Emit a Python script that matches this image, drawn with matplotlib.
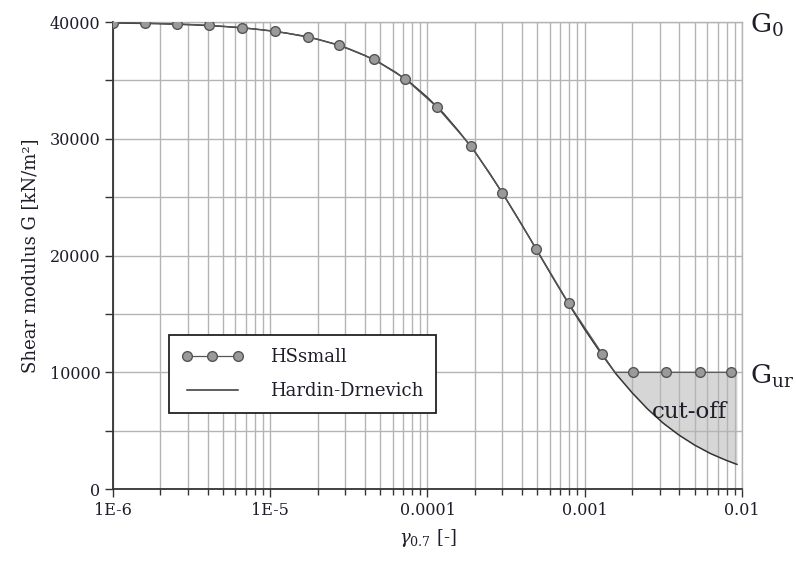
import numpy as np
import matplotlib.pyplot as plt
from matplotlib.ticker import FixedLocator, MultipleLocator, LogLocator, NullFormatter
from matplotlib.transforms import blended_transform_factory

plt.rcParams['font.family'] = ['DejaVu Serif']
plt.rcParams['mathtext.fontset'] = 'dejavuserif'

# Hardin-Drnevich curve, values
gamma_hd = [1.0e-6, 1.26e-6, 1.58e-6, 2.0e-6, 2.51e-6, 3.16e-6, 3.98e-6, 5.01e-6, 6.31e-6, 7.94e-6,
            1.0e-5, 1.26e-5, 1.58e-5, 2.0e-5, 2.51e-5, 3.16e-5, 3.98e-5, 5.01e-5, 6.31e-5, 7.94e-5,
            1.0e-4, 1.26e-4, 1.58e-4, 2.0e-4, 2.51e-4, 3.16e-4, 3.98e-4, 5.01e-4, 6.31e-4, 7.94e-4,
            1.0e-3, 1.26e-3, 1.58e-3, 2.0e-3, 2.51e-3, 3.16e-3, 3.98e-3, 5.01e-3, 6.31e-3, 7.94e-3,
            9.3e-3]
g_hd = [39920, 39900, 39880, 39850, 39810, 39760, 39700, 39620, 39520, 39400,
        39245, 39055, 38815, 38520, 38155, 37705, 37150, 36480, 35670, 34700,
        33540, 32200, 30650, 28900, 26960, 24860, 22650, 20360, 18060, 15820,
        13680, 11690, 9870, 8260, 6860, 5640, 4620, 3760, 3040, 2460,
        2110]

# HSsmall points (cut off at G_ur); the 1.56e-3 point is the cut-off corner, no marker
gamma_hs = [1.0e-6, 1.6e-6, 2.57e-6, 4.07e-6, 6.6e-6, 1.07e-5, 1.74e-5, 2.75e-5, 4.57e-5, 7.24e-5,
            1.15e-4, 1.9e-4, 3.0e-4, 4.9e-4, 7.9e-4, 1.29e-3, 1.56e-3, 2.04e-3, 3.3e-3, 5.4e-3, 8.5e-3]
g_hs = [39950, 39900, 39840, 39720, 39520, 39210, 38750, 38010, 36800, 35120,
        32700, 29350, 25340, 20600, 15920, 11600, 10000, 10000, 10000, 10000, 10000]
hs_markers = [0, 1, 2, 3, 4, 5, 6, 7, 8, 9, 10, 11, 12, 13, 14, 15, 17, 18, 19, 20]

g0 = 40000
g_ur = 10000
xtick_vals = [1e-6, 1e-5, 1e-4, 1e-3, 1e-2]
xtick_labels = ['1E-6', '1E-5', '0.0001', '0.001', '0.01']

grid_c = '#b4b4b4'
dark = '#333333'
txt_c = '#1e1e2a'

fig = plt.figure(figsize=(7.96, 5.63), dpi=100)
ax = fig.add_axes([0.142, 0.1314, 0.790, 0.8295])
ax.set_xscale('log')
ax.set_xlim(1e-6, 1e-2)
ax.set_ylim(0, g0)

# cut-off area
hd = np.array(g_hd)
ax.fill_between(gamma_hd, hd, g_ur, where=hd < g_ur, interpolate=True,
                color='#d6d6d6', lw=0, zorder=0.3)

line_hd, = ax.plot(gamma_hd, g_hd, color=dark, lw=1.1, zorder=3, label='Hardin-Drnevich')
line_hs, = ax.plot(gamma_hs, g_hs, '-o', color='#555555', lw=0.9, ms=7, markevery=hs_markers,
                   mfc='#9a9a9a', mec='#555555', mew=1.0, zorder=4, label='HSsmall')

# ticks and grid
ax.xaxis.set_major_locator(FixedLocator(xtick_vals))
ax.set_xticklabels(xtick_labels)
ax.xaxis.set_minor_locator(LogLocator(base=10, subs=np.arange(2, 10)))
ax.xaxis.set_minor_formatter(NullFormatter())
ax.yaxis.set_major_locator(MultipleLocator(10000))
ax.yaxis.set_minor_locator(MultipleLocator(5000))
ax.set_axisbelow(True)
ax.grid(which='both', color=grid_c, lw=1.0)
ax.tick_params(which='both', direction='out', color=dark, width=1.0,
               labelsize=11.5, labelcolor=txt_c)
ax.tick_params(which='major', length=6, pad=3)
ax.tick_params(axis='x', which='minor', length=4)
ax.tick_params(axis='y', which='minor', length=6)

for s in ['left', 'bottom']:
    ax.spines[s].set_color(dark)
    ax.spines[s].set_linewidth(1.3)
for s in ['top', 'right']:
    ax.spines[s].set_color(grid_c)
    ax.spines[s].set_linewidth(1.0)

ax.set_ylabel('Shear modulus G [kN/m²]', fontsize=13, color=txt_c, labelpad=8)
ax.set_xlabel(r'$\gamma_{0.7}$ [-]', fontsize=13, color=txt_c, labelpad=6)

trans = blended_transform_factory(ax.transAxes, ax.transData)
ax.text(1.013, 39050, r'G$_0$', transform=trans, fontsize=19, color=txt_c,
        va='baseline', ha='left', clip_on=False)
ax.text(1.013, 9000, r'G$_{\rm ur}$', transform=trans, fontsize=19, color=txt_c,
        va='baseline', ha='left', clip_on=False)
ax.text(2.67e-3, 6080, 'cut-off', fontsize=16.5, color=txt_c, va='baseline', ha='left', zorder=5)

leg = ax.legend(handles=[line_hs, line_hd], loc='lower left', bbox_to_anchor=(0.089, 0.163),
                numpoints=3, fontsize=13, frameon=True, fancybox=False, framealpha=1,
                edgecolor='#222222', handlelength=3.4, handletextpad=1.5,
                labelspacing=0.9, borderpad=0.7, borderaxespad=0)
leg.get_frame().set_linewidth(1.3)
for t in leg.get_texts():
    t.set_color(txt_c)

fig.savefig('out.png', dpi=100)
